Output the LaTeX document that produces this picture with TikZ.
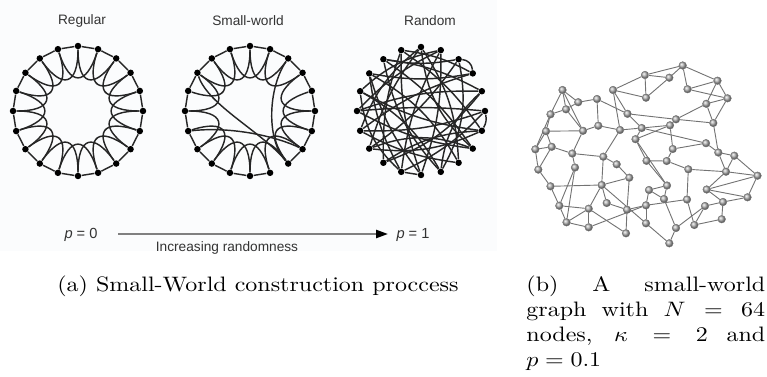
\documentclass[tikz,border=0pt]{standalone}
\usepackage{graphicx}
\usepackage{fontspec}
\newfontfamily\lsans{Liberation Sans}
\usetikzlibrary{calc,arrows.meta}
\pgfdeclarelayer{bg}
\pgfsetlayers{bg,main}
\definecolor{panelbg}{RGB}{251,252,253}
\begin{document}
\begin{tikzpicture}[x=0.4167pt,y=-0.4167pt,
  dot/.style={circle,fill=black,inner sep=0pt,minimum size=2.7pt},
  ringedge/.style={line width=0.6pt,black!85},
  gnode/.style={circle,inner sep=0pt,minimum size=3.2pt,ball color=black!30,draw=black!55,line width=0.15pt},
  gedge/.style={line width=0.38pt,black!55},
  lbl/.style={font=\lsans\fontsize{5.7}{6.5}\selectfont,text=black!80,inner sep=0pt},
  plbl/.style={font=\lsans\fontsize{6.1}{7}\selectfont,text=black!80,inner sep=0pt}]
\useasboundingbox (0,0) rectangle (767,377);
\coordinate (RC) at (78,111);
\coordinate (SC) at (250,111);
\coordinate (QC) at (421,111);
% ring nodes
\foreach \k in {0,...,19}{
  \node[dot] (R\k) at ($(RC)+(-90+18*\k:65)$) {};
  \node[dot] (S\k) at ($(SC)+(-90+18*\k:65)$) {};
  \node[dot] (Q\k) at ($(QC)+(-90+18*\k:64)$) {};
}
% labels
\node[lbl] (tReg) at (82,21) {Regular};
\node[lbl] (tSW) at (248,21) {Small-world};
\node[lbl] (tRand) at (430,21) {Random};
\node[plbl] (p0) at (81,235) {\itshape p\upshape\ = 0};
\node[plbl] (p1) at (413,235) {\itshape p\upshape\ = 1};
\node[lbl] (inc) at (227,248) {Increasing randomness};
\coordinate (aL) at (118,234);
\coordinate (aR) at (388,234);
\draw[line width=0.85pt,black!50,-{Triangle[length=5pt,width=3.4pt,color=black]}] (aL) -- (aR);
% graph (b) nodes
\foreach \n/\x/\y in {1/682.7/65.5,2/645/75,3/669.3/77.7,4/717.5/80.7,5/687.5/89.2,6/613/90,7/646/97.7,8/727.5/98.3,
 9/562.5/90,10/578.2/102.2,11/597/99,12/566/109.3,13/706.3/103.8,14/627.5/113.8,15/550.5/114.3,16/676/119.3,
 17/713.3/123,18/598.3/125.7,19/670/125.3,20/620/130,21/641.7/128,22/546/131.2,23/583/130.8,24/635.5/139.2,
 25/551.7/146.8,26/535.3/149.3,27/706/143.2,28/672.8/149,29/572.3/153.5,30/718.3/152.5,31/734.3/155.7,32/603.3/156.7,
 33/646.5/160.8,34/666.7/161,35/616.7/164.3,36/538.3/169.6,37/575/167.5,38/688.3/169.3,39/726/171.7,40/757.5/175.7,
 41/629.3/177.7,42/550.5/186.3,43/601.7/185,44/667/185.5,45/706.7/189.5,46/649/190,47/664/199,48/747.5/197.3,
 49/687/199.5,50/559.3/205.7,51/606.7/203,52/646/205.3,53/723/202,54/588.7/208.7,55/627/209.7,56/705/206,
 57/566.5/222.3,58/588.7/227.3,59/646/223.3,60/676/228,61/694.3/225,62/721.7/219.2,63/626/233.3,64/669.3/243.3}{
  \node[gnode] (G\n) at (\x,\y) {};
}
% captions
\node[anchor=base,inner sep=0pt] (capa) at (258,291) {\scalebox{1}[0.87]{(a) Small-World construction proccess}};
\node[anchor=north west,inner sep=0pt] (capb) at (526,275) {\scalebox{1}[0.87]{\parbox[t]{99.5pt}{(b) A small-world\linebreak graph with $N = 64$\linebreak nodes, $\kappa = 2$ and\linebreak $p = 0.1$}}};
\begin{pgfonlayer}{bg}
\fill[panelbg] (0,0) rectangle (497,251);
% regular ring
\foreach \i in {0,...,19}{
  \pgfmathtruncatemacro\j{mod(\i+1,20)}
  \pgfmathtruncatemacro\m{mod(\i+2,20)}
  \draw[ringedge] (R\i) -- (R\j);
  \draw[ringedge] (R\i) .. controls ($(RC)+(-90+18*\i:26)$) and ($(RC)+(-54+18*\i:26)$) .. (R\m);
}
% small-world ring
\foreach \i in {0,...,7,9,10,...,19}{
  \pgfmathtruncatemacro\j{mod(\i+1,20)}
  \draw[ringedge] (S\i) -- (S\j);
}
\foreach \i in {0,1,3,4,...,13,15,16,...,19}{
  \pgfmathtruncatemacro\m{mod(\i+2,20)}
  \draw[ringedge] (S\i) .. controls ($(SC)+(-90+18*\i:26)$) and ($(SC)+(-54+18*\i:26)$) .. (S\m);
}
\draw[ringedge] (S2) .. controls (268,88) and (266,140) .. (S8);
\draw[ringedge] (S17) .. controls (208,105) and (262,132) .. (S8);
\draw[ringedge] (S14) .. controls (235,126) and (280,138) .. (S7);
% random ring
\foreach \a/\b/\c in {0/8/15,0/13/-10,1/10/10,1/16/-15,2/9/20,2/3/40,3/14/-10,3/17/10,4/12/15,4/18/-10,
  5/6/20,5/15/-5,5/11/10,6/13/15,6/19/-10,7/15/10,0/7/-20,8/17/-15,8/14/10,9/18/15,4/9/-20,10/11/0,
  10/19/10,1/11/-10,12/19/10,6/12/-15,2/13/10,5/14/10,4/15/-10,6/16/10,9/16/-15,11/17/10,7/18/-10,
  2/18/10,3/19/-10,7/13/-20,11/16/20,1/15/-10,10/17/10,0/14/-15}{
  \draw[ringedge] (Q\a) to[bend left=\c] (Q\b);
}
% graph (b) edges
\foreach \a/\b in {1/2,1/3,1/4,1/5,2/3,2/6,2/7,3/7,4/5,4/8,4/13,5/8,6/7,6/14,6/20,8/13,8/17,13/16,13/17,16/17,
  16/19,19/28,19/21,19/24,17/30,27/28,27/30,30/31,21/27,14/16,
  9/10,9/12,9/15,9/23,10/11,10/12,11/18,11/14,12/15,12/23,15/22,15/26,22/23,22/26,22/25,18/23,18/20,20/21,
  23/29,25/26,25/29,20/32,24/33,21/24,14/21,24/44,29/32,
  26/36,25/36,29/37,36/42,37/50,37/57,42/43,42/50,32/43,41/43,43/51,43/54,43/59,32/35,35/41,41/55,51/55,
  50/54,50/57,54/57,54/58,54/63,57/58,52/58,52/55,46/52,52/59,55/63,
  28/34,33/34,34/38,38/39,30/39,31/39,31/40,38/49,39/45,39/40,40/45,40/48,45/48,45/53,48/53,44/46,44/47,
  46/47,33/44,49/52,53/56,53/62,56/60,56/61,61/62,60/64,59/64,49/61,47/60}{
  \draw[gedge] (G\a) -- (G\b);
}
\end{pgfonlayer}
\end{tikzpicture}
\end{document}
